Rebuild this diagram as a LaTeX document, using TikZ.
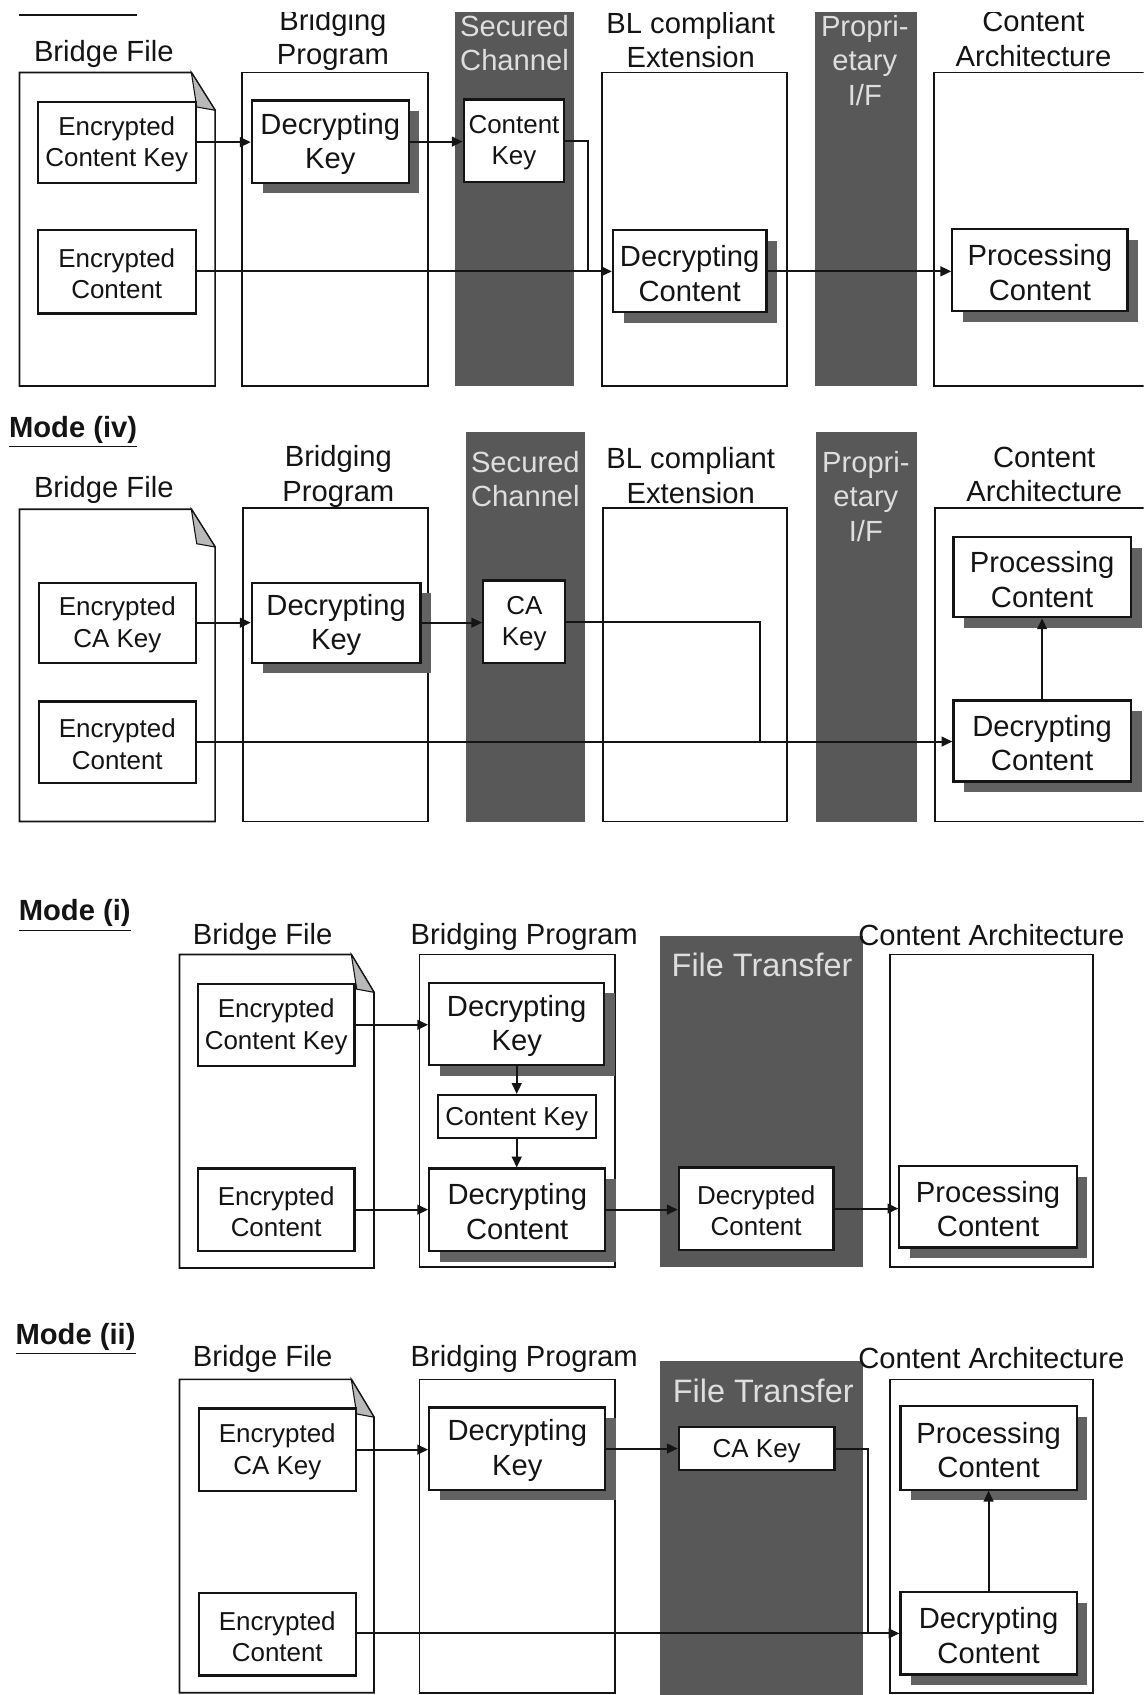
\documentclass[tikz,border=0pt]{standalone}
\usepackage{fontspec}
\setmainfont{Liberation Sans}
\usetikzlibrary{arrows.meta,shadows}
\definecolor{bandgray}{RGB}{88,88,88}
\definecolor{bandtxt}{RGB}{222,222,222}
\definecolor{shadowgray}{RGB}{98,98,98}
\definecolor{foldgray}{RGB}{185,185,185}
\definecolor{ink}{RGB}{20,20,20}
\newcommand\fA{\fontsize{12}{14.5}\selectfont}
\newcommand\fB{\fontsize{13.5}{16}\selectfont}
\newcommand\fC{\fontsize{15}{17}\selectfont}
\newcommand\bx[7][ibox]{%
  \pgfmathsetmacro\bxcx{(#3+#5)/2}%
  \pgfmathsetmacro\bxcy{(#4+#6)/2}%
  \pgfmathsetmacro\bxw{(#5-#3)*0.5}%
  \pgfmathsetmacro\bxh{(#6-#4)*0.5}%
  \node[#1,minimum width=\bxw pt,minimum height=\bxh pt] (#2) at (\bxcx,\bxcy) {};
  \node[btxt,#1txt] (#2t) at ([yshift=-1pt]#2.center) {#7};}
\newcommand\docshape[6]{%
  \draw[cont] (#1,#2) -- (#5,#2) -- (#3,#6) -- (#3,#4) -- (#1,#4) -- cycle;
  \filldraw[fill=foldgray,draw=ink,line width=0.5pt] (#5,#2) -- ({#5+5},{#6-3}) -- (#3,#6) -- cycle;}
\tikzset{
  cont/.style={draw=ink,line width=0.8pt},
  ibox/.style={draw=ink,fill=white,line width=1pt,inner sep=0pt},
  sbox/.style={ibox,drop shadow={shadow xshift=5pt,shadow yshift=-5pt,fill=shadowgray,opacity=1}},
  btxt/.style={align=center,text=ink,inner sep=0pt},
  iboxtxt/.style={font=\fA},
  sboxtxt/.style={font=\fB},
  hdr/.style={align=center,font=\fB,text=ink,inner sep=0pt,yshift=-1.5pt},
  bhdr/.style={align=center,font=\fB,text=bandtxt,inner sep=0pt,yshift=-1.5pt},
  modelabel/.style={font=\fB\bfseries,text=ink,anchor=west,inner sep=0pt,yshift=-1pt},
  arr/.style={draw=ink,line width=0.9pt,-{Triangle[length=5pt,width=4.5pt]}},
  ln/.style={draw=ink,line width=0.9pt},
  band/.style={fill=bandgray}
}
\begin{document}
\begin{tikzpicture}[x=0.5pt,y=-0.5pt]
\useasboundingbox (0,0) rectangle (1058,1568);
\fill[white] (0,0) rectangle (1058,1568);
\clip (0,0) rectangle (1058,1568);

% ================= Panel A (top, cut off) =================
\begin{scope}
\clip (0,12) rectangle (1058,400);
\draw[ink,line width=0.9pt] (18,14) -- (127,14);
\fill[band] (421,0) rectangle (531,357);
\fill[band] (754,0) rectangle (848,357);
\node[hdr] (aH1) at (96,47) {Bridge File};
\node[hdr] (aH2) at (308,34) {Bridging\\Program};
\node[bhdr] (aH3) at (476,37) {Secured\\Channel};
\node[hdr] (aH4) at (639,34) {BL compliant\\Extension};
\node[bhdr] (aH5) at (800,53) {Propri-\\etary\\I/F};
\node[hdr] (aH6) at (956,33) {Content\\Architecture};
\docshape{18}{67}{199}{357}{177}{102}
\draw[cont] (224,67) rectangle (396,357);
\draw[cont] (557,67) rectangle (728,357);
\draw[cont] (864,67) rectangle (1075,357);
\bx{aEK}{35}{94}{181}{169}{Encrypted\\Content Key}
\bx{aEC}{35}{213}{181}{290}{Encrypted\\Content}
\bx[sbox]{aDK}{233}{93}{378}{169}{Decrypting\\Key}
\bx{aCK}{429}{92}{522}{168}{Content\\Key}
\bx[sbox]{aDC}{567}{213}{709}{289}{Decrypting\\Content}
\bx[sbox]{aPC}{881}{212}{1043}{288}{Processing\\Content}
\coordinate (aJ) at (544,251);
\draw[arr] (aEK.east) -- (aEK.east -| aDK.west);
\draw[arr] (aDK.east) -- (aDK.east -| aCK.west);
\draw[ln] (aCK.east) -| (aJ);
\draw[arr] (aEC.east |- aJ) -- (aJ -| aDC.west);
\draw[arr] (aDC.east) -- (aDC.east -| aPC.west);
\end{scope}

% ================= Panel B : Mode (iv) =================
\node[modelabel] (bM) at (8,398) {\underline{Mode (iv)}};
\fill[band] (431,400) rectangle (541,760);
\fill[band] (755,400) rectangle (848,760);
\node[hdr] (bH1) at (96,450) {Bridge File};
\node[hdr] (bH2) at (313,438) {Bridging\\Program};
\node[bhdr] (bH3) at (486,440) {Secured\\Channel};
\node[hdr] (bH4) at (639,437) {BL compliant\\Extension};
\node[bhdr] (bH5) at (801,456) {Propri-\\etary\\I/F};
\node[hdr] (bH6) at (966,436) {Content\\Architecture};
\docshape{18}{471}{199}{760}{177}{506}
\draw[cont] (225,470) rectangle (396,760);
\draw[cont] (558,470) rectangle (728,760);
\draw[cont] (865,470) rectangle (1075,760);
\bx{bEK}{36}{539}{181}{613}{Encrypted\\CA Key}
\bx{bEC}{36}{649}{181}{724}{Encrypted\\Content}
\bx[sbox]{bDK}{233}{539}{389}{613}{Decrypting\\Key}
\bx{bCK}{447}{537}{523}{613}{CA\\Key}
\bx[sbox]{bPC}{882}{497}{1046}{571}{Processing\\Content}
\bx[sbox]{bDC}{882}{648}{1046}{723}{Decrypting\\Content}
\coordinate (bJ) at (703,686);
\draw[arr] (bEK.east) -- (bEK.east -| bDK.west);
\draw[arr] (bDK.east) -- (bDK.east -| bCK.west);
\draw[ln] (bCK.east) -| (bJ);
\draw[arr] (bEC.east |- bJ) -- (bJ -| bDC.west);
\draw[arr] (bDC.north) -- (bPC.south);

% ================= Panel C : Mode (i) =================
\node[modelabel] (cM) at (17,845) {\underline{Mode (i)}};
\fill[band] (611,866) rectangle (798,1172);
\node[hdr] (cH1) at (243,864) {Bridge File};
\node[hdr] (cH2) at (485,864) {Bridging Program};
\node[bhdr,font=\fC] (cH3) at (705,890) {File Transfer};
\node[hdr] (cH4) at (917,862) {Content Architecture};
\docshape{166}{883}{346}{1173}{325}{918}
\draw[cont] (388,883) rectangle (569,1172);
\draw[cont] (823,883) rectangle (1011,1172);
\bx{cEK}{183}{910}{328}{986}{Encrypted\\Content Key}
\bx{cEC}{183}{1081}{328}{1157}{Encrypted\\Content}
\bx[sbox]{cDK}{397}{909}{559}{985}{Decrypting\\Key}
\bx{cCK}{405}{1013}{551}{1053}{Content Key}
\bx[sbox]{cDC}{397}{1081}{560}{1157}{Decrypting\\Content}
\bx{cDT}{628}{1080}{771}{1156}{Decrypted\\Content}
\bx[sbox]{cPC}{832}{1079}{996}{1154}{Processing\\Content}
\draw[arr] (cEK.east) -- (cEK.east -| cDK.west);
\draw[arr] (cDK.south) -- (cDK.south |- cCK.north);
\draw[arr] (cDK.south |- cCK.south) -- (cDK.south |- cDC.north);
\draw[arr] (cEC.east) -- (cEC.east -| cDC.west);
\draw[arr] (cDC.east) -- (cDC.east -| cDT.west);
\draw[arr] (cDT.east) -- (cDT.east -| cPC.west);

% ================= Panel D : Mode (ii) =================
\node[modelabel] (dM) at (14,1237) {\underline{Mode (ii)}};
\fill[band] (611,1259) rectangle (798,1575);
\node[hdr] (dH1) at (243,1254) {Bridge File};
\node[hdr] (dH2) at (485,1254) {Bridging Program};
\node[bhdr,font=\fC] (dH3) at (706,1284) {File Transfer};
\node[hdr] (dH4) at (917,1253) {Content Architecture};
\docshape{166}{1276}{346}{1566}{325}{1311}
\draw[cont] (388,1276) rectangle (569,1566);
\draw[cont] (823,1276) rectangle (1011,1566);
\bx{dEK}{184}{1303}{329}{1379}{Encrypted\\CA Key}
\bx{dEC}{184}{1474}{329}{1550}{Encrypted\\Content}
\bx[sbox]{dDK}{397}{1302}{560}{1378}{Decrypting\\Key}
\bx{dCK}{628}{1320}{772}{1360}{CA Key}
\bx[sbox]{dPC}{833}{1301}{996}{1378}{Processing\\Content}
\bx[sbox]{dDC}{833}{1473}{996}{1549}{Decrypting\\Content}
\coordinate (dJ) at (803,1511);
\draw[arr] (dEK.east) -- (dEK.east -| dDK.west);
\draw[arr] (dDK.east) -- (dDK.east -| dCK.west);
\draw[ln] (dCK.east) -| (dJ);
\draw[arr] (dEC.east |- dJ) -- (dJ -| dDC.west);
\draw[arr] (dDC.north) -- (dPC.south);
\end{tikzpicture}
\end{document}
